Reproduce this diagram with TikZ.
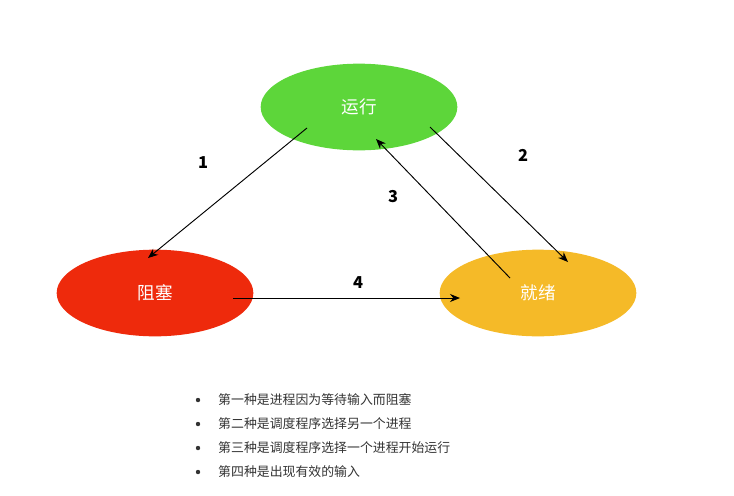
\documentclass[tikz,border=0pt]{standalone}
\usepackage{fontspec}
\setmainfont{Noto Sans CJK SC}
\usetikzlibrary{arrows.meta, positioning, shapes.geometric}
\definecolor{rungreen}{HTML}{5DD63A}
\definecolor{blockred}{HTML}{EE2A0C}
\definecolor{readyyellow}{HTML}{F5BA28}
\definecolor{listgray}{HTML}{333333}
\begin{document}
\begin{tikzpicture}[
		x=0.03cm, y=-0.03cm,
		state/.style={ellipse, minimum width=5.9cm, minimum height=2.6cm, text=white, font=\fontsize{15}{18}\selectfont},
		arrow/.style={-{Stealth[length=3mm, width=2.4mm]}, thick},
		num/.style={font=\fontsize{14}{16}\selectfont\bfseries},
		item/.style={anchor=west, text=listgray, font=\fontsize{11}{13}\selectfont, inner sep=0pt}
		]
		\useasboundingbox (0,0) rectangle (734,495);
		
		% States
		\node[state, fill=rungreen] (run) at (359,107) {运行};
		\node[state, fill=blockred] (block) at (155,293) {阻塞};
		\node[state, fill=readyyellow] (ready) at (538,293) {就绪};
		
		% Arrow ends
		\coordinate (r1) at (307,128);
		\coordinate (b1) at (148,258);
		\coordinate (r2) at (430,127);
		\coordinate (y2) at (568,262);
		\coordinate (y3) at (510,278);
		\coordinate (r3) at (376,139);
		\coordinate (b4) at (233,298);
		\coordinate (y4) at (460,298);
		
		% Transitions
		\draw[arrow] (r1) -- (b1);
		\draw[arrow] (r2) -- (y2);
		\draw[arrow] (y3) -- (r3);
		\draw[arrow] (b4) -- (y4);
		
		\node[num] (n1) at (203,163) {1};
		\node[num] (n2) at (523,155) {2};
		\node[num] (n3) at (393,197) {3};
		\node[num] (n4) at (358,283) {4};
		
		% List
		\foreach \y/\t in {400/第一种是进程因为等待输入而阻塞,
				424/第二种是调度程序选择另一个进程,
				448/第三种是调度程序选择一个进程开始运行,
				472/第四种是出现有效的输入}{
			\fill[listgray] (198,\y) circle (2.2);
			\node[item] at (218,\y) {\t};
		}
		
	\end{tikzpicture}
\end{document}
